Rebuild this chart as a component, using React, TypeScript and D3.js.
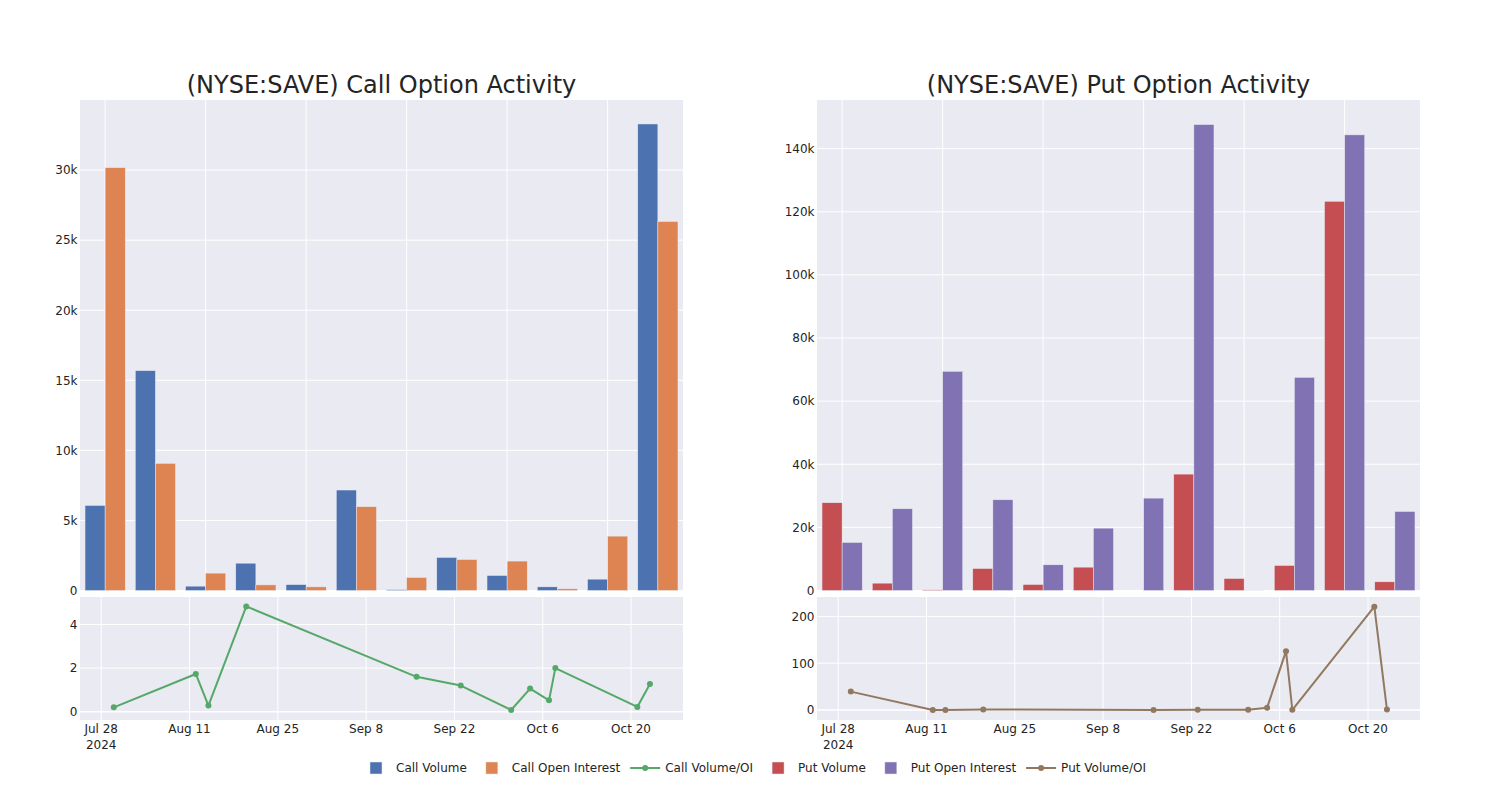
import React, { useEffect, useRef } from 'react';
import * as d3 from 'd3';

// ---------- data ----------
const barDates = ['Jul 30', 'Aug 12', 'Aug 14', 'Aug 20', 'Sep 16', 'Sep 23', 'Oct 1', 'Oct 4', 'Oct 7', 'Oct 8', 'Oct 21', 'Oct 23'];
const callVolume = [6070, 15690, 310, 1950, 420, 7170, 60, 2360, 1070, 260, 810, 33290];
const callOpenInterest = [30170, 9070, 1240, 400, 260, 5980, 930, 2210, 2100, 120, 3880, 26330];
const putVolume = [27800, 2330, 200, 6970, 1900, 7400, 0, 36880, 3800, 7930, 123320, 2750];
const putOpenInterest = [15220, 25890, 69430, 28740, 8140, 19760, 29270, 147620, 30, 67520, 144350, 25040];

const ratioDates = ['2024-07-30', '2024-08-12', '2024-08-14', '2024-08-20', '2024-09-16', '2024-09-23', '2024-10-01', '2024-10-04', '2024-10-07', '2024-10-08', '2024-10-21', '2024-10-23'];
const callVolOI = [0.2, 1.73, 0.28, 4.83, 1.6, 1.2, 0.08, 1.06, 0.52, 2.0, 0.22, 1.27];
const putVolOI = [39.3, 0, 0, 1.2, 0, 0.5, 0.3, 5, 125.7, 0.5, 220.7, 1];

const callTicks = [0, 5000, 10000, 15000, 20000, 25000, 30000];
const putTicks = [0, 20000, 40000, 60000, 80000, 100000, 120000, 140000];
const callRatioTicks = [0, 2, 4];
const putRatioTicks = [0, 100, 200];
const dateTicks = ['2024-07-28', '2024-08-11', '2024-08-25', '2024-09-08', '2024-09-22', '2024-10-06', '2024-10-20'];

const legendItems = [
  { name: 'Call Volume', kind: 'bar', color: '#4C72B0' },
  { name: 'Call Open Interest', kind: 'bar', color: '#DD8452' },
  { name: 'Call Volume/OI', kind: 'line', color: '#55A868' },
  { name: 'Put Volume', kind: 'bar', color: '#C44E52' },
  { name: 'Put Open Interest', kind: 'bar', color: '#8172B3' },
  { name: 'Put Volume/OI', kind: 'line', color: '#937860' },
];

const FONT = '"DejaVu Sans", sans-serif';
const TXT = 'rgb(36,36,36)';
const BG = '#EAEAF2';

const parseDate = (s: string) => {
  const [y, m, d] = s.split('-').map(Number);
  return new Date(Date.UTC(y, m - 1, d));
};

export default function App() {
  const ref = useRef<SVGSVGElement | null>(null);

  useEffect(() => {
    const svg = d3.select(ref.current);
    svg.selectAll('*').remove();

    const topY0 = 100, topY1 = 590.5, botY0 = 597, botY1 = 720;
    const anchor = parseDate('2024-07-28').getTime();
    const day = 864e5;
    const xDomain = [new Date(anchor - 3.36 * day), new Date(anchor + 92.24 * day)];

    const panels = [
      {
        x0: 80, x1: 683, title: '(NYSE:SAVE) Call Option Activity',
        a: callVolume, b: callOpenInterest, ca: '#4C72B0', cb: '#DD8452',
        ymax: 35000, yticks: callTicks,
        ratio: callVolOI, rDomain: [-0.38, 5.26], rTicks: callRatioTicks, rColor: '#55A868',
      },
      {
        x0: 817, x1: 1420, title: '(NYSE:SAVE) Put Option Activity',
        a: putVolume, b: putOpenInterest, ca: '#C44E52', cb: '#8172B3',
        ymax: 155400, yticks: putTicks,
        ratio: putVolOI, rDomain: [-21.4, 241.5], rTicks: putRatioTicks, rColor: '#937860',
      },
    ];

    panels.forEach((p) => {
      const g = svg.append('g');
      // title
      g.append('text')
        .attr('x', (p.x0 + p.x1) / 2).attr('y', 93)
        .attr('text-anchor', 'middle')
        .style('font-family', FONT).style('font-size', '24px').style('fill', TXT)
        .text(p.title);

      // ---- top bar subplot ----
      const xb = d3.scaleBand<string>().domain(barDates).range([p.x0, p.x1]).paddingInner(0).paddingOuter(0);
      const y = d3.scaleLinear().domain([0, p.ymax]).range([topY1, topY0]);
      g.append('rect').attr('x', p.x0).attr('y', topY0).attr('width', p.x1 - p.x0).attr('height', topY1 - topY0 + 0.5).attr('fill', BG);
      // vertical grid every other category
      barDates.forEach((d, i) => {
        if (i % 2 === 0) {
          const cx = (xb(d) as number) + xb.bandwidth() / 2;
          g.append('line').attr('x1', cx).attr('x2', cx).attr('y1', topY0).attr('y2', topY1)
            .attr('stroke', '#fff').attr('stroke-width', 1);
        }
      });
      p.yticks.forEach((t) => {
        g.append('line').attr('x1', p.x0).attr('x2', p.x1).attr('y1', y(t)).attr('y2', y(t))
          .attr('stroke', '#fff').attr('stroke-width', 1);
        g.append('text').attr('x', p.x0 - 2.5).attr('y', y(t)).attr('dy', '0.36em')
          .attr('text-anchor', 'end')
          .style('font-family', FONT).style('font-size', '12px').style('fill', TXT)
          .text(d3.format('~s')(t));
      });
      const bw = xb.bandwidth() * 0.8 / 2;
      const series = [
        { vals: p.a, color: p.ca, off: 0 },
        { vals: p.b, color: p.cb, off: 1 },
      ];
      series.forEach((s) => {
        g.append('g').selectAll('rect').data(s.vals).join('rect')
          .attr('x', (_v, i) => (xb(barDates[i]) as number) + xb.bandwidth() * 0.1 + s.off * bw)
          .attr('y', (v) => y(v))
          .attr('width', bw)
          .attr('height', (v) => Math.max(0, y(0) - y(v)))
          .attr('fill', s.color)
          .attr('stroke', BG).attr('stroke-width', 0.5)
          .style('display', (v) => (v > 0 ? null : 'none'));
      });

      // ---- bottom line subplot ----
      const xd = d3.scaleUtc().domain(xDomain).range([p.x0, p.x1]);
      const yr = d3.scaleLinear().domain(p.rDomain).range([botY1, botY0]);
      g.append('rect').attr('x', p.x0).attr('y', botY0).attr('width', p.x1 - p.x0).attr('height', botY1 - botY0).attr('fill', BG);
      dateTicks.forEach((ds, i) => {
        const x = xd(parseDate(ds));
        g.append('line').attr('x1', x).attr('x2', x).attr('y1', botY0).attr('y2', botY1)
          .attr('stroke', '#fff').attr('stroke-width', 1);
        g.append('text').attr('x', x).attr('y', 733).attr('text-anchor', 'middle')
          .style('font-family', FONT).style('font-size', '12px').style('fill', TXT)
          .text(d3.utcFormat('%b %-d')(parseDate(ds)));
        if (i === 0) {
          g.append('text').attr('x', x).attr('y', 749).attr('text-anchor', 'middle')
            .style('font-family', FONT).style('font-size', '12px').style('fill', TXT)
            .text(d3.utcFormat('%Y')(parseDate(ds)));
        }
      });
      p.rTicks.forEach((t) => {
        g.append('line').attr('x1', p.x0).attr('x2', p.x1).attr('y1', yr(t)).attr('y2', yr(t))
          .attr('stroke', '#fff').attr('stroke-width', t === 0 ? 1.5 : 1);
        g.append('text').attr('x', p.x0 - 2.5).attr('y', yr(t)).attr('dy', '0.36em')
          .attr('text-anchor', 'end')
          .style('font-family', FONT).style('font-size', '12px').style('fill', TXT)
          .text(String(t));
      });
      const pts = p.ratio.map((v, i) => [parseDate(ratioDates[i]), v] as [Date, number]);
      const line = d3.line<[Date, number]>().x((d) => xd(d[0])).y((d) => yr(d[1]));
      g.append('path').attr('d', line(pts) as string).attr('fill', 'none')
        .attr('stroke', p.rColor).attr('stroke-width', 2).attr('stroke-linejoin', 'round');
      g.append('g').selectAll('circle').data(pts).join('circle')
        .attr('cx', (d) => xd(d[0])).attr('cy', (d) => yr(d[1])).attr('r', 3)
        .attr('fill', p.rColor);
    });

    // ---- legend ----
    const lg = svg.append('g');
    let tx = 396;
    const ly = 768;
    legendItems.forEach((it) => {
      if (it.kind === 'bar') {
        lg.append('rect').attr('x', tx - 20 - 6).attr('y', ly - 6).attr('width', 12).attr('height', 12)
          .attr('fill', it.color).attr('stroke', BG).attr('stroke-width', 0.5);
      } else {
        lg.append('line').attr('x1', tx - 35).attr('x2', tx - 5).attr('y1', ly).attr('y2', ly)
          .attr('stroke', it.color).attr('stroke-width', 2);
        lg.append('circle').attr('cx', tx - 20).attr('cy', ly).attr('r', 3).attr('fill', it.color);
      }
      const t = lg.append('text').attr('x', tx).attr('y', ly).attr('dy', '0.36em')
        .style('font-family', FONT).style('font-size', '12px').style('fill', TXT)
        .text(it.name);
      const w = (t.node() as SVGTextElement).getComputedTextLength();
      tx += w + 45;
    });
  }, []);

  return (
    <svg
      ref={ref}
      width={1500}
      height={800}
      style={{ position: 'absolute', left: 0, top: 0, background: '#fff' }}
    />
  );
}
